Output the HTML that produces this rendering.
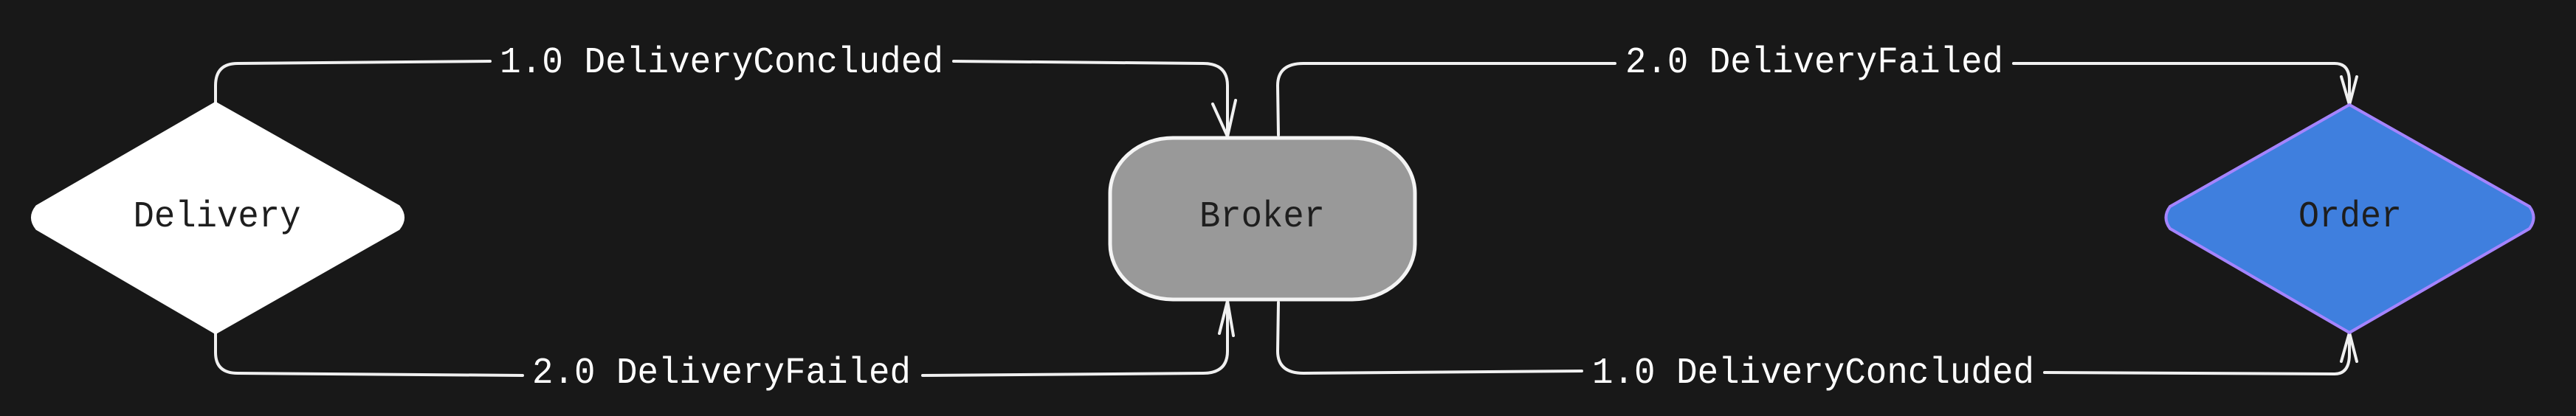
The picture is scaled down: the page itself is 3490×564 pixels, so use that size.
<!DOCTYPE html>
<html><head><meta charset="utf-8"><style>
html,body{margin:0;padding:0;background:#181818;}
svg{display:block}
text{font-family:"Liberation Mono",monospace;font-size:50px;}
</style></head><body>
<svg width="3490" height="564" viewBox="0 0 3490 564" xmlns="http://www.w3.org/2000/svg">
<rect width="3490" height="564" fill="#181818"/>
<g fill="none" stroke="#f0f0f0" stroke-width="4" stroke-linecap="round" stroke-linejoin="round">
<path d="M292 140 L292 116 Q292 86 322 86 L664 83"/>
<path d="M1292 83 L1630 86 Q1663 86 1663 116 L1663 185"/>
<path d="M1643 141 L1663 185 L1674 136"/>
<path d="M292 451 L292 478 Q292 506 322 506 L708 509"/>
<path d="M1250 509 L1630 506 Q1663 506 1663 476 L1663 408"/>
<path d="M1652 452 L1663 408 L1671 455"/>
<path d="M1732 183 L1731 116 Q1731 86 1766 86 L2188 86"/>
<path d="M2728 86 L3163 86 Q3183 86 3183 110 L3183 142"/>
<path d="M3172 104 L3183 142 L3193 104"/>
<path d="M1732 410 L1731 476 Q1731 506 1766 506 L2143 503"/>
<path d="M2770 505 L3163 507 Q3183 507 3183 480 L3183 451"/>
<path d="M3172 490 L3183 451 L3193 490"/>
</g>
<g fill="#ffffff">
<text x="677" y="98" textLength="601" lengthAdjust="spacingAndGlyphs">1.0 DeliveryConcluded</text>
<text x="721" y="519" textLength="513" lengthAdjust="spacingAndGlyphs">2.0 DeliveryFailed</text>
<text x="2202" y="98" textLength="512" lengthAdjust="spacingAndGlyphs">2.0 DeliveryFailed</text>
<text x="2157" y="519" textLength="599" lengthAdjust="spacingAndGlyphs">1.0 DeliveryConcluded</text>
</g>
<path d="M292 140 L540 280 Q552 295 540 310 L292 451 L50 310 Q38 295 50 280 Z" fill="#ffffff" stroke="#ffffff" stroke-width="4" stroke-linejoin="round"/>
<text x="294" y="307" text-anchor="middle" fill="#1e1e1e" textLength="227" lengthAdjust="spacingAndGlyphs">Delivery</text>
<rect x="1504" y="187" width="413" height="219" rx="85" ry="75" fill="#999999" stroke="#f4f4f4" stroke-width="5"/>
<text x="1710" y="307" text-anchor="middle" fill="#1e1e1e" textLength="170" lengthAdjust="spacingAndGlyphs">Broker</text>
<path d="M3183 142 L3427 280 Q3438 295 3427 310 L3183 451 L2940 310 Q2929 295 2940 280 Z" fill="#3f7fde" stroke="#a584ff" stroke-width="4" stroke-linejoin="round"/>
<text x="3184" y="307" text-anchor="middle" fill="#1e1e1e" textLength="140" lengthAdjust="spacingAndGlyphs">Order</text>
</svg>
</body></html>
